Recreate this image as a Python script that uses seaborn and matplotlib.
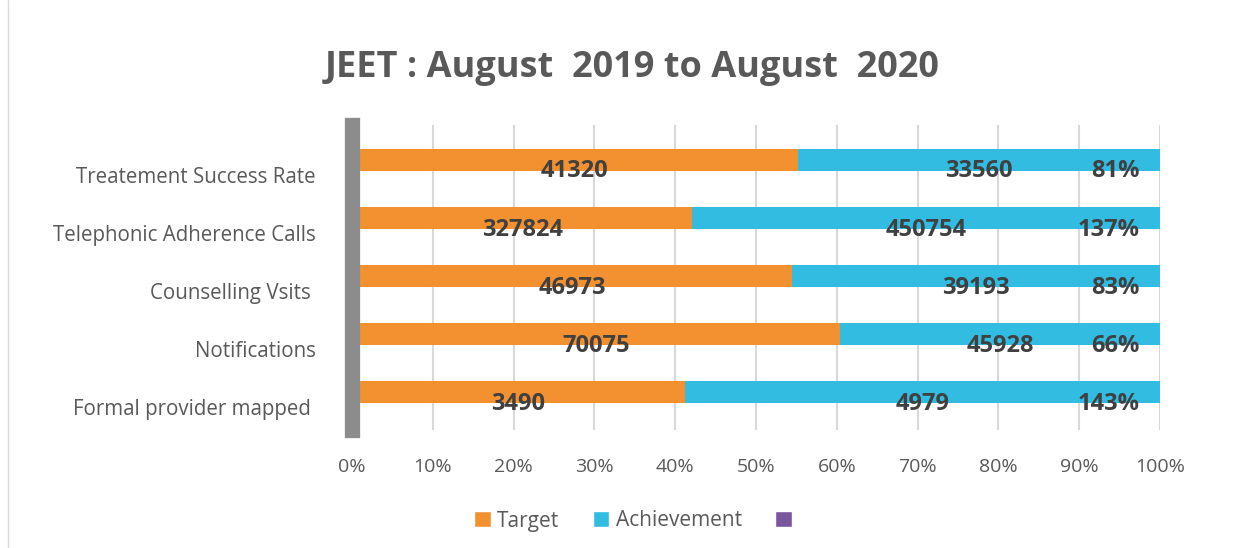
import numpy as np
import pandas as pd
import seaborn as sns
import matplotlib.pyplot as plt
import matplotlib.transforms as mtransforms
from matplotlib.patches import Patch
from matplotlib.lines import Line2D

categories = ['Treatement Success Rate', 'Telephonic Adherence Calls',
              'Counselling Vsits ', 'Notifications', 'Formal provider mapped ']
target = [41320, 327824, 46973, 70075, 3490]
achievement = [33560, 450754, 39193, 45928, 4979]
ratio = [0.81, 1.37, 0.83, 0.66, 1.43]
ratio_labels = ['81%', '137%', '83%', '66%', '143%']

sns.set_theme(style='white')
plt.rcParams['font.family'] = ['Open Sans', 'DejaVu Sans']

df = pd.DataFrame({'cat': categories, 'target': target,
                   'achievement': achievement, 'ratio': ratio})
total = df['target'] + df['achievement'] + df['ratio']
df['p_target'] = df['target'] / total
df['p_ach'] = (df['target'] + df['achievement']) / total
df['p_all'] = total / total

orange = '#F39131'
teal = '#33BCE2'
purple = '#7B559E'
text_col = '#404040'

fig = plt.figure(figsize=(12.52, 5.48), dpi=100)
ax = fig.add_axes([352 / 1252, 1 - 430 / 548, 808 / 1252, 305 / 548])

bw = 0.38
sns.barplot(data=df, x='p_all', y='cat', orient='h', color=purple,
            width=bw, ax=ax, saturation=1, edgecolor='none')
sns.barplot(data=df, x='p_ach', y='cat', orient='h', color=teal,
            width=bw, ax=ax, saturation=1, edgecolor='none')
sns.barplot(data=df, x='p_target', y='cat', orient='h', color=orange,
            width=bw, ax=ax, saturation=1, edgecolor='none')

ax.set_xlim(0, 1)
ax.set_ylim(4.65, -0.6)
ax.set_xticks(np.linspace(0, 1, 11))
ax.set_xticklabels([f'{int(v)}%' for v in np.linspace(0, 100, 11)])
ax.xaxis.grid(True, color='#D9D9D9', linewidth=1.5)
ax.set_axisbelow(True)
ax.set_xlabel('')
ax.set_ylabel('')
for s in ['top', 'right', 'bottom']:
    ax.spines[s].set_visible(False)
ax.spines['left'].set_color('#8C8C8C')
ax.spines['left'].set_linewidth(11)
ax.tick_params(axis='x', labelsize=14, colors='#595959', pad=20, length=0)
ax.tick_params(axis='y', labelsize=14.8, colors='#595959', pad=26, length=0)

# y labels sit a little below the bars in the original (3D look)
shift = mtransforms.ScaledTranslation(0, -15 / 100, fig.dpi_scale_trans)
for lab in ax.get_yticklabels():
    lab.set_transform(lab.get_transform() + shift)

for i in range(len(categories)):
    ax.text(df['p_target'][i] / 2, i + 0.2, f"{target[i]}", ha='center',
            va='center', fontsize=17, fontweight='bold', color=text_col)
    ax.text((df['p_target'][i] + df['p_ach'][i]) / 2, i + 0.2, f"{achievement[i]}",
            ha='center', va='center', fontsize=17, fontweight='bold', color=text_col)
    ax.text(0.975, i + 0.2, ratio_labels[i], ha='right', va='center',
            fontsize=17, fontweight='bold', color=text_col)

fig.text(632 / 1252, 1 - 68 / 548, 'JEET : August  2019 to August  2020',
         ha='center', va='center', fontsize=26, fontweight='bold', color='#595959')

handles = [Patch(facecolor=orange), Patch(facecolor=teal), Patch(facecolor=purple)]
fig.legend(handles, ['Target', 'Achievement', ''], loc='center',
           bbox_to_anchor=(636 / 1252, 1 - 521 / 548), ncol=3, frameon=False,
           fontsize=15, handlelength=0.8, handleheight=0.8, columnspacing=1.6,
           handletextpad=0.3, labelcolor='#595959')

fig.add_artist(Line2D([8 / 1252, 8 / 1252], [0, 1], color='#D9D9D9', linewidth=1))

fig.savefig('out.png', dpi=100)
